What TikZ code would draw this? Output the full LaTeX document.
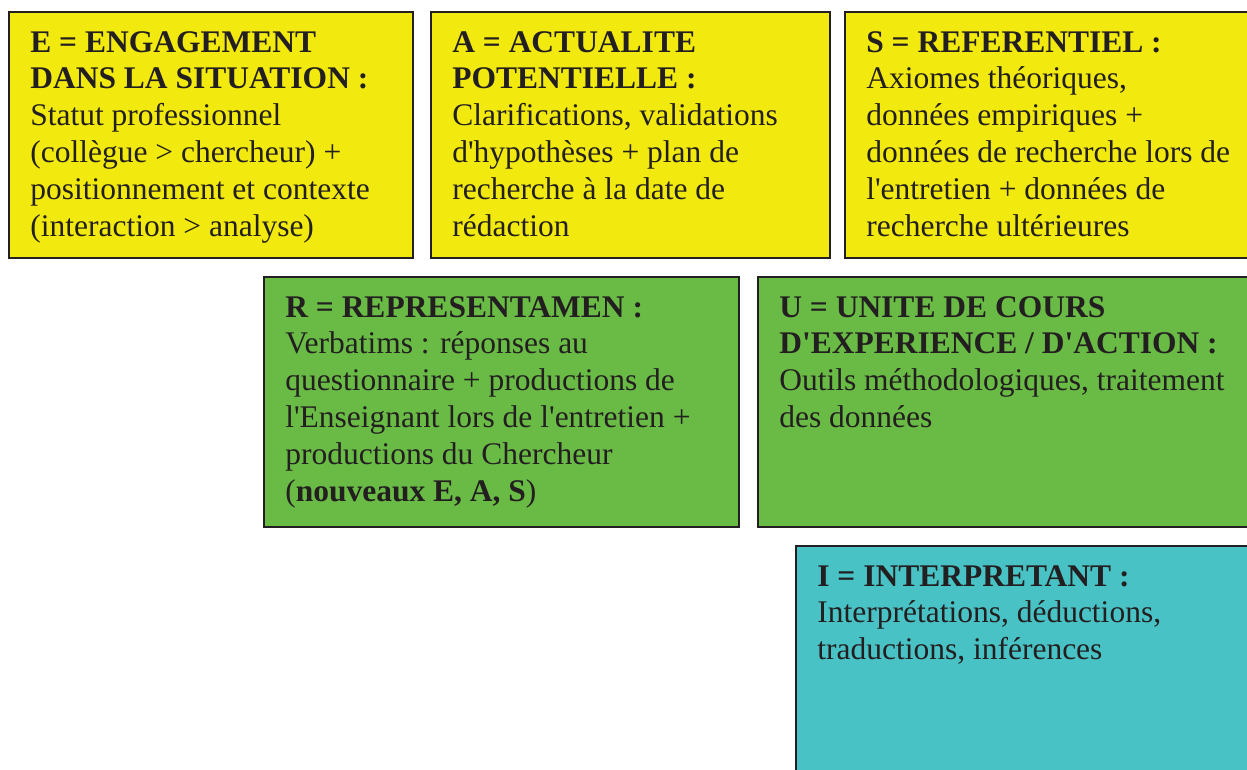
\documentclass[tikz,border=0pt]{standalone}
\usepackage{fontspec}
\setmainfont{Liberation Serif}[Ligatures=TeXOff]
\definecolor{ylw}{HTML}{F2EA0E}
\definecolor{grn}{HTML}{69BB45}
\definecolor{tealb}{HTML}{48C2C5}
\definecolor{ink}{HTML}{231F20}
\newcommand\boxbody[3]{\parbox[c][#1][t]{#2}{\raggedright\vspace*{14.6pt}\strut #3}}
\newcommand\ml[1]{\mbox{#1}}
\begin{document}
\begin{tikzpicture}[x=1pt,y=-1pt,
  infobox/.style={draw=ink, line width=1.6pt, inner xsep=21.5pt, inner ysep=0pt,
    anchor=north west, text=ink, font=\fontsize{31.5}{36.8}\selectfont}]
\useasboundingbox (0,0) rectangle (1247,769);
\clip (0,0) rectangle (1247,769);
\node[infobox, fill=ylw] (E) at (8,11) {\boxbody{246pt}{361pt}{%
\ml{\textbf{E = ENGAGEMENT}}\\
\ml{\textbf{DANS LA SITUATION :}}\\
\ml{Statut professionnel}\\
\ml{(collègue > chercheur) +}\\
\ml{positionnement et contexte}\\
\ml{(interaction > analyse)}}};
\node[infobox, fill=ylw] (A) at (430,11) {\boxbody{246pt}{356pt}{%
\ml{\textbf{A = ACTUALITE}}\\
\ml{\textbf{POTENTIELLE :}}\\
\ml{Clarifications, validations}\\
\ml{d'hypothèses + plan de}\\
\ml{recherche à la date de}\\
\ml{rédaction}}};
\node[infobox, fill=ylw] (S) at (844,11) {\boxbody{246pt}{377pt}{%
\ml{\textbf{S = REFERENTIEL :}}\\
\ml{Axiomes théoriques,}\\
\ml{données empiriques +}\\
\ml{données de recherche lors de}\\
\ml{l'entretien + données de}\\
\ml{recherche ultérieures}}};
\node[infobox, fill=grn] (R) at (263,276) {\boxbody{250pt}{432pt}{%
\ml{\textbf{R = REPRESENTAMEN :}}\\
\ml{Verbatims : réponses au}\\
\ml{questionnaire + productions de}\\
\ml{l'Enseignant lors de l'entretien +}\\
\ml{productions du Chercheur}\\
\ml{(\textbf{nouveaux E, A, S})}}};
\node[infobox, fill=grn] (U) at (757,276) {\boxbody{250pt}{467pt}{%
\ml{\textbf{U = UNITE DE COURS}}\\
\ml{\textbf{D'EXPERIENCE / D'ACTION :}}\\
\ml{Outils méthodologiques, traitement}\\
\ml{des données}}};
\node[infobox, fill=tealb] (I) at (795,545) {\boxbody{240pt}{427pt}{%
\ml{\textbf{I = INTERPRETANT :}}\\
\ml{Interprétations, déductions,}\\
\ml{traductions, inférences}}};
\end{tikzpicture}
\end{document}
